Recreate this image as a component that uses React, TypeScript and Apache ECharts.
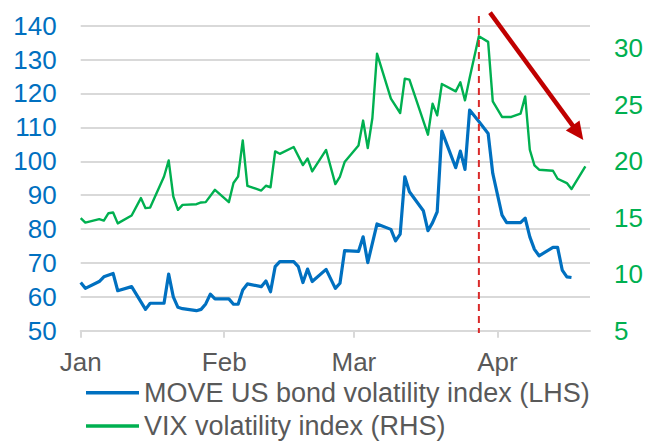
import React, { useEffect, useRef } from "react";
import * as echarts from "echarts";

// MOVE US bond volatility index (left axis)
const moveDates = [
  "2021-01-01", "2021-01-02", "2021-01-05", "2021-01-06", "2021-01-08", "2021-01-09", "2021-01-12",
  "2021-01-15", "2021-01-16", "2021-01-19", "2021-01-20", "2021-01-21", "2021-01-22", "2021-01-23",
  "2021-01-26", "2021-01-27", "2021-01-28", "2021-01-29", "2021-01-30", "2021-02-02", "2021-02-03",
  "2021-02-04", "2021-02-05", "2021-02-06", "2021-02-09", "2021-02-10", "2021-02-11", "2021-02-12",
  "2021-02-13", "2021-02-16", "2021-02-17", "2021-02-18", "2021-02-19", "2021-02-20", "2021-02-23",
  "2021-02-25", "2021-02-26", "2021-02-27", "2021-03-02", "2021-03-03", "2021-03-04", "2021-03-06",
  "2021-03-09", "2021-03-10", "2021-03-11", "2021-03-12", "2021-03-13", "2021-03-16", "2021-03-17",
  "2021-03-18", "2021-03-19", "2021-03-20", "2021-03-23", "2021-03-24", "2021-03-25", "2021-03-26",
  "2021-03-28", "2021-03-30", "2021-03-31", "2021-04-02", "2021-04-03", "2021-04-06", "2021-04-07",
  "2021-04-08", "2021-04-09", "2021-04-10", "2021-04-13", "2021-04-14", "2021-04-15", "2021-04-16",
  "2021-04-17",
];
const moveValues = [
  64.2, 62.5, 64.5, 65.9, 66.9, 61.8, 63.0,
  56.3, 58.1, 58.1, 66.7, 60.0, 56.9, 56.5,
  55.9, 56.3, 57.9, 60.8, 59.4, 59.4, 57.8,
  57.8, 62.0, 63.8, 63.0, 64.7, 61.5, 68.9,
  70.4, 70.4, 68.9, 64.2, 68.2, 64.5, 68.1,
  62.5, 64.0, 73.6, 73.4, 77.7, 70.1, 81.5,
  79.9, 76.5, 78.5, 95.4, 91.0, 85.4, 79.5,
  81.9, 85.1, 108.9, 98.1, 103.0, 97.6, 115.1,
  111.7, 108.2, 96.4, 84.1, 81.9, 81.9, 83.2,
  77.7, 74.0, 72.1, 74.6, 74.6, 67.9, 65.9,
  65.7,
];

// VIX volatility index (right axis)
const vixDates = [
  "2021-01-01", "2021-01-02", "2021-01-05", "2021-01-06", "2021-01-07", "2021-01-08", "2021-01-09",
  "2021-01-12", "2021-01-14", "2021-01-15", "2021-01-16", "2021-01-19", "2021-01-20", "2021-01-21",
  "2021-01-22", "2021-01-23", "2021-01-26", "2021-01-27", "2021-01-28", "2021-01-30", "2021-02-02",
  "2021-02-03", "2021-02-04", "2021-02-05", "2021-02-06", "2021-02-09", "2021-02-10", "2021-02-11",
  "2021-02-12", "2021-02-13", "2021-02-16", "2021-02-18", "2021-02-19", "2021-02-20", "2021-02-23",
  "2021-02-25", "2021-02-26", "2021-02-27", "2021-03-02", "2021-03-03", "2021-03-04", "2021-03-05",
  "2021-03-06", "2021-03-09", "2021-03-11", "2021-03-12", "2021-03-13", "2021-03-17", "2021-03-18",
  "2021-03-19", "2021-03-20", "2021-03-23", "2021-03-24", "2021-03-25", "2021-03-26", "2021-03-28",
  "2021-03-30", "2021-03-31", "2021-04-02", "2021-04-04", "2021-04-06", "2021-04-07", "2021-04-08",
  "2021-04-09", "2021-04-10", "2021-04-13", "2021-04-14", "2021-04-16", "2021-04-17", "2021-04-20",
];
const vixValues = [
  14.96, 14.57, 14.88, 14.75, 15.4, 15.46, 14.5,
  15.2, 16.74, 15.85, 15.9, 18.65, 20.07, 16.88,
  15.7, 16.14, 16.2, 16.35, 16.38, 17.47, 16.38,
  18.07, 18.65, 21.84, 17.83, 17.41, 17.83, 17.7,
  20.87, 20.66, 21.26, 19.66, 20.25, 19.1, 21.0,
  17.98, 18.65, 19.93, 21.4, 23.6, 21.17, 23.83,
  29.53, 25.54, 24.27, 27.31, 27.22, 22.35, 25.1,
  24.06, 26.84, 26.19, 26.99, 25.39, 27.38, 31.06,
  30.57, 25.3, 23.92, 23.92, 24.21, 25.74, 21.02,
  19.63, 19.25, 19.16, 18.45, 18.07, 17.54, 19.54,
];

const monthTicks = ["2021-01-01", "2021-02-01", "2021-03-01", "2021-04-01"];
const monthLabels = ["Jan", "Feb", "Mar", "Apr"];
const xStart = "2021-01-01";
const xEnd = "2021-04-21";
const eventDate = "2021-03-28";
const seriesNames = ["MOVE US bond volatility index (LHS)", "VIX volatility index (RHS)"];

const FONT = "'Liberation Sans', Arial, sans-serif";

function ts(s: string): number {
  const [y, m, d] = s.split("-").map(Number);
  return new Date(y, m - 1, d).getTime();
}

export default function App() {
  const ref = useRef<HTMLDivElement>(null);

  useEffect(() => {
    if (!ref.current) return;
    const chart = echarts.init(ref.current, null, { renderer: "svg" });
    const tickValues = monthTicks.map(ts);
    chart.setOption({
      animation: false,
      backgroundColor: "#ffffff",
      textStyle: { fontFamily: FONT },
      grid: {
        left: 80.7,
        right: 56,
        top: 25.7,
        height: 305,
        containLabel: false,
        outerBoundsMode: "none",
      },
      legend: {
        orient: "vertical",
        left: 86,
        top: 378.7,
        padding: 0,
        icon: "rect",
        itemWidth: 53,
        itemHeight: 3.5,
        itemGap: 5.3,
        textStyle: { color: "#595959", fontSize: 27, fontFamily: FONT, lineHeight: 28 },
        data: seriesNames,
      },
      xAxis: {
        type: "value",
        min: ts(xStart),
        max: ts(xEnd),
        axisLine: { show: true, lineStyle: { color: "#D9D9D9", width: 2 } },
        axisTick: {
          show: true,
          length: 7,
          lineStyle: { color: "#D9D9D9", width: 2 },
          customValues: tickValues,
        },
        axisLabel: {
          color: "#595959",
          fontSize: 26,
          fontFamily: FONT,
          margin: 18,
          customValues: tickValues,
          formatter: (v: number) => {
            const i = tickValues.indexOf(v);
            return i >= 0 ? monthLabels[i] : "";
          },
        },
        splitLine: { show: false },
      },
      yAxis: [
        {
          type: "value",
          min: 50,
          max: 140,
          interval: 10,
          axisLine: { show: false },
          axisTick: { show: false },
          axisLabel: { color: "#0070C0", fontSize: 26, fontFamily: FONT, margin: 24 },
          splitLine: { show: true, lineStyle: { color: "#D9D9D9", width: 1.8 } },
        },
        {
          type: "value",
          min: 5,
          max: 32,
          interval: 5,
          axisLine: { show: false },
          axisTick: { show: false },
          axisLabel: {
            color: "#00B050",
            fontSize: 26,
            fontFamily: FONT,
            margin: 24,
            formatter: (v: number) => (v % 5 === 0 ? String(v) : ""),
          },
          splitLine: { show: false },
        },
      ],
      series: [
        {
          name: seriesNames[0],
          type: "line",
          yAxisIndex: 0,
          symbol: "none",
          color: "#0070C0",
          lineStyle: { color: "#0070C0", width: 3.2, join: "round" },
          data: moveDates.map((d, i) => [ts(d), moveValues[i]]),
        },
        {
          name: seriesNames[1],
          type: "line",
          yAxisIndex: 1,
          symbol: "none",
          color: "#00B050",
          lineStyle: { color: "#00B050", width: 2.4, join: "round" },
          data: vixDates.map((d, i) => [ts(d), vixValues[i]]),
        },
      ],
    });

    const ex = chart.convertToPixel({ xAxisIndex: 0 }, ts(eventDate)) as number;
    // arrow geometry
    const sx = 490, sy = 12.7, tx = 583.3, ty = 140;
    const dx = tx - sx, dy = ty - sy;
    const len = Math.sqrt(dx * dx + dy * dy);
    const ux = dx / len, uy = dy / len;
    const headLen = 18, headHalf = 8.5;
    const bx = tx - ux * headLen, by = ty - uy * headLen;
    const px = -uy, py = ux;

    chart.setOption({
      graphic: [
        {
          type: "line",
          z: 100,
          shape: { x1: ex, y1: 16, x2: ex, y2: 333 },
          style: { stroke: "#D92A2A", lineWidth: 2, lineDash: [7, 5] },
        },
        {
          type: "line",
          z: 100,
          shape: { x1: sx, y1: sy, x2: bx + ux * 2, y2: by + uy * 2 },
          style: { stroke: "#C00000", lineWidth: 4.5 },
        },
        {
          type: "polygon",
          z: 100,
          shape: {
            points: [
              [tx, ty],
              [bx + px * headHalf, by + py * headHalf],
              [bx - px * headHalf, by - py * headHalf],
            ],
          },
          style: { fill: "#C00000" },
        },
      ],
    });

    return () => chart.dispose();
  }, []);

  return (
    <div
      ref={ref}
      style={{ position: "fixed", left: 0, top: 0, width: 646, height: 441, background: "#fff" }}
    />
  );
}
